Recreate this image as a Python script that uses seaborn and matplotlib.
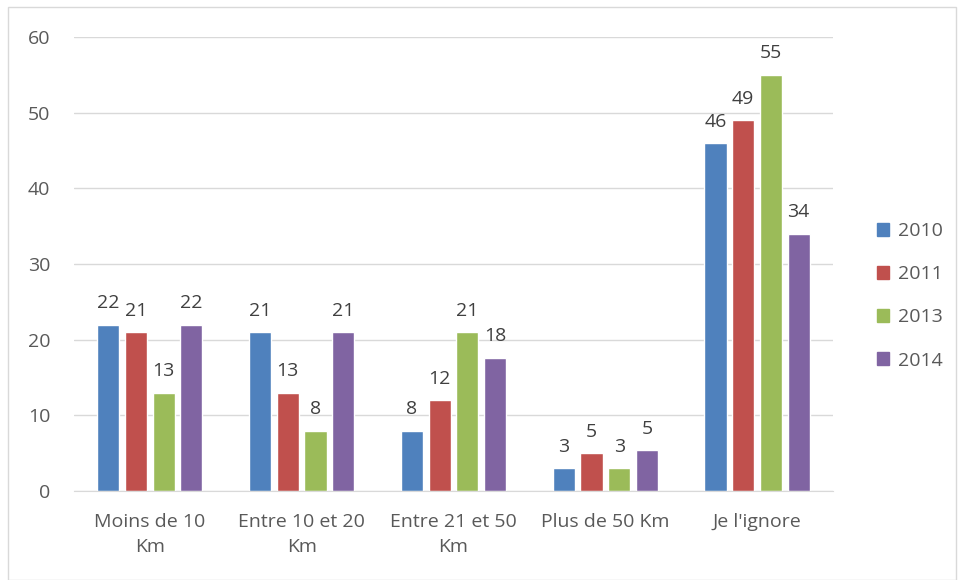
import pandas as pd
import matplotlib
matplotlib.use('Agg')
import matplotlib.pyplot as plt
import seaborn as sns
from matplotlib.patches import Rectangle

# Données
categories = ["Moins de 10\nKm", "Entre 10 et 20\nKm", "Entre 21 et 50\nKm", "Plus de 50 Km", "Je l'ignore"]
years = ["2010", "2011", "2013", "2014"]
v2010 = [22, 21, 8, 3, 46]
v2011 = [21, 13, 12, 5, 49]
v2013 = [13, 8, 21, 3, 55]
v2014 = [22, 21, 17.6, 5.4, 34]
colors = ["#4F81BD", "#C0504D", "#9BBB59", "#8064A2"]

rows = []
for year, vals in zip(years, [v2010, v2011, v2013, v2014]):
    for cat, v in zip(categories, vals):
        rows.append({"cat": cat, "year": year, "val": v})
df = pd.DataFrame(rows)

sns.set_style("white")
plt.rcParams['font.family'] = ['Open Sans', 'DejaVu Sans']

fig = plt.figure(figsize=(9.58, 5.8), dpi=100)
ax = fig.add_axes([0.0772, 0.1534, 0.7923, 0.7826])

sns.barplot(data=df, x="cat", y="val", hue="year", order=categories, hue_order=years,
            palette=colors, saturation=1, width=0.73, gap=0.2, errorbar=None, ax=ax, legend=False)

for cont in ax.containers:
    ax.bar_label(cont, fmt='%.0f', padding=9, fontsize=14, color='#404040')

ax.set_ylim(0, 60)
ax.set_yticks(range(0, 61, 10))
ax.set_xlim(-0.5, len(categories) - 0.5)
ax.yaxis.grid(True, color='#d9d9d9', linewidth=1)
ax.set_axisbelow(True)
for s in ['top', 'right', 'left']:
    ax.spines[s].set_visible(False)
ax.spines['bottom'].set_color('#d9d9d9')
ax.tick_params(axis='both', length=0, labelsize=14, labelcolor='#595959')
ax.tick_params(axis='y', pad=17)
ax.tick_params(axis='x', pad=16)
ax.set_xlabel('')
ax.set_ylabel('')
for lbl in ax.get_xticklabels():
    lbl.set_multialignment('center')
    lbl.set_linespacing(1.45)

handles = [Rectangle((0, 0), 1, 1, color=c) for c in colors]
fig.legend(handles, years, loc='center left', bbox_to_anchor=(0.897, 0.49), frameon=False,
           fontsize=14, labelcolor='#595959', handlelength=0.65, handleheight=0.65,
           labelspacing=1.3, handletextpad=0.45)

fig.patches.append(Rectangle((0.008, 0.0), 0.99, 0.988, transform=fig.transFigure,
                             fill=False, edgecolor='#d9d9d9', linewidth=1))

fig.savefig('out.png', dpi=100)
